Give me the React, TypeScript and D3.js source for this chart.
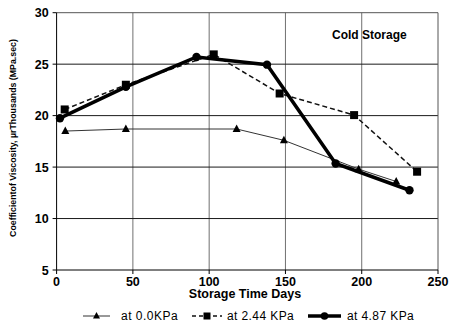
import React from "react";
import * as d3 from "d3";

const xTicks = [0, 50, 100, 150, 200, 250];
const yTicks = [5, 10, 15, 20, 25, 30];

const days00 = [5.7, 45.4, 118, 149, 198, 222.6];
const vals00 = [18.5, 18.7, 18.7, 17.6, 14.8, 13.6];

const days244 = [5.3, 45.4, 103, 146.2, 195, 236.3];
const vals244 = [20.6, 23.0, 25.95, 22.15, 20.05, 14.55];

const days487 = [2.2, 45.4, 91.7, 137.9, 182.9, 231.3];
const vals487 = [19.75, 22.8, 25.7, 24.95, 15.35, 12.75];

const seriesNames = ["at 0.0KPa", "at 2.44 KPa", "at 4.87 KPa"];

export default function App() {
  const W = 454, H = 325;
  const x = d3.scaleLinear().domain([0, 250]).range([56.6, 438]);
  const y = d3.scaleLinear().domain([5, 30]).range([270, 12.7]);
  const line = d3.line<[number, number]>().x(d => x(d[0])).y(d => y(d[1]));
  const pts = (ds: number[], vs: number[]) => ds.map((d, i) => [d, vs[i]] as [number, number]);
  const p0 = pts(days00, vals00);
  const p1 = pts(days244, vals244);
  const p2 = pts(days487, vals487);
  const font = "Arial, 'Liberation Sans', sans-serif";
  const tri = (cx: number, cy: number, s = 4) => `M${cx},${cy - s - 0.5}L${cx + s},${cy + s - 1}L${cx - s},${cy + s - 1}Z`;
  return (
    <svg width={W} height={H} style={{ position: "absolute", left: 0, top: 0, fontFamily: font }}>
      <rect width={W} height={H} fill="#fff" />
      {/* grid */}
      {xTicks.slice(1, -1).map(t => (
        <line key={"vx" + t} x1={x(t)} x2={x(t)} y1={y(30)} y2={y(5)} stroke="#707070" strokeWidth={1} />
      ))}
      {yTicks.slice(1, -1).map(t => (
        <line key={"hy" + t} x1={x(0)} x2={x(250)} y1={y(t)} y2={y(t)} stroke="#1a1a1a" strokeWidth={1} />
      ))}
      <line x1={x(0)} x2={x(250)} y1={y(30)} y2={y(30)} stroke="#555" strokeWidth={1} />
      <line x1={x(250)} x2={x(250)} y1={y(30)} y2={y(5)} stroke="#555" strokeWidth={1} />
      {/* axes */}
      <line x1={x(0)} x2={x(0)} y1={y(30)} y2={y(5)} stroke="#000" strokeWidth={1} />
      <line x1={x(0)} x2={x(250)} y1={y(5)} y2={y(5)} stroke="#000" strokeWidth={1} />
      {yTicks.map(t => (
        <g key={"yt" + t}>
          <line x1={x(0) - 4} x2={x(0)} y1={y(t)} y2={y(t)} stroke="#000" />
          <text x={x(0) - 8} y={y(t) + 4.5} textAnchor="end" fontSize={12.5} fontWeight="bold">{t}</text>
        </g>
      ))}
      {xTicks.map(t => (
        <g key={"xt" + t}>
          <line x1={x(t)} x2={x(t)} y1={y(5)} y2={y(5) + 4} stroke="#000" />
          <text x={x(t)} y={y(5) + 16} textAnchor="middle" fontSize={12.5} fontWeight="bold">{t}</text>
        </g>
      ))}
      <text x={245} y={298} textAnchor="middle" fontSize={12.5} fontWeight="bold">Storage Time Days</text>
      <text transform={`translate(16,138) rotate(-90)`} textAnchor="middle" fontSize={8.8} fontWeight="bold">
        Coefficientof Viscosity, µrThousands  (MPa.sec)
      </text>
      <text x={332} y={39} fontSize={12} fontWeight="bold">Cold Storage</text>
      {/* series */}
      <path d={line(p0) || ""} fill="none" stroke="#333" strokeWidth={1} />
      <path d={line(p1) || ""} fill="none" stroke="#111" strokeWidth={1.5} strokeDasharray="5,3" />
      <path d={line(p2) || ""} fill="none" stroke="#000" strokeWidth={3.5} />
      {p0.map((p, i) => <path key={"t" + i} d={tri(x(p[0]), y(p[1]))} fill="#000" />)}
      {p1.map((p, i) => <rect key={"s" + i} x={x(p[0]) - 4} y={y(p[1]) - 4} width={8} height={8} fill="#000" />)}
      {p2.map((p, i) => <circle key={"c" + i} cx={x(p[0])} cy={y(p[1])} r={4.2} fill="#000" />)}
      {/* legend */}
      <g>
        <line x1={83} x2={110} y1={316} y2={316} stroke="#333" strokeWidth={1} />
        <path d={tri(96.5, 316, 3.5)} fill="#000" />
        <text x={121} y={320} fontSize={12} letterSpacing={0.5}>{seriesNames[0]}</text>
        <line x1={192} x2={222} y1={316} y2={316} stroke="#111" strokeWidth={1.5} strokeDasharray="4,3" />
        <rect x={203.5} y={312.5} width={7} height={7} fill="#000" />
        <text x={227} y={320} fontSize={12} letterSpacing={0.4}>{seriesNames[1]}</text>
        <line x1={308} x2={341} y1={316} y2={316} stroke="#000" strokeWidth={3.5} />
        <circle cx={324.5} cy={316} r={3.8} fill="#000" />
        <text x={347} y={320} fontSize={12} letterSpacing={0.4}>{seriesNames[2]}</text>
      </g>
    </svg>
  );
}
